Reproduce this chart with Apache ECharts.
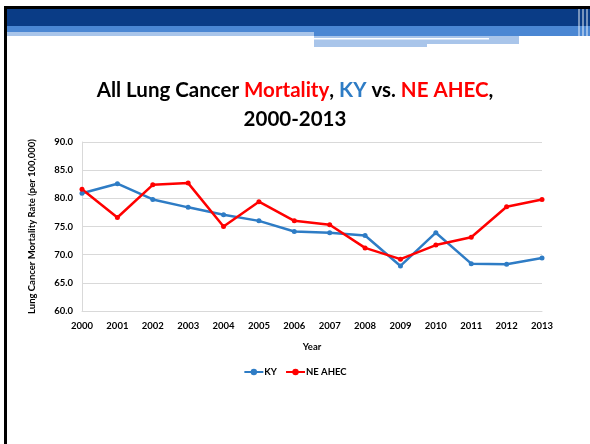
<!DOCTYPE html>
<html>
<head>
<meta charset="utf-8">
<script src="https://cdn.jsdelivr.net/npm/echarts@6/dist/echarts.min.js"></script>
<style>
  html, body { margin: 0; padding: 0; background: #fff; }
  #main { width: 590px; height: 444px; }
</style>
</head>
<body>
<div id="main"></div>
<script>
// data
var years = ['2000', '2001', '2002', '2003', '2004', '2005', '2006',
             '2007', '2008', '2009', '2010', '2011', '2012', '2013'];
var ky = [80.9, 82.6, 79.8, 78.4, 77.1, 76.0, 74.1, 73.9, 73.4, 68.0, 73.9, 68.4, 68.3, 69.4];
var neAhec = [81.6, 76.6, 82.4, 82.7, 75.0, 79.4, 76.0, 75.3, 71.2, 69.2, 71.7, 73.1, 78.5, 79.8];

var FONT = 'Lato';
var BLUE = '#2E7CC5';
var RED = '#FF0000';

var chart = echarts.init(document.getElementById('main'));

var option = {
  backgroundColor: '#fff',
  textStyle: { fontFamily: FONT },
  graphic: [
    // slide header bands
    { type: 'rect', shape: { x: 7, y: 9, width: 583, height: 17 }, style: { fill: '#0A3C86' }, silent: true },
    { type: 'rect', shape: { x: 7, y: 26, width: 583, height: 6 }, style: { fill: '#4B87D3' }, silent: true },
    { type: 'rect', shape: { x: 7, y: 32, width: 307, height: 4 }, style: { fill: '#A9C5EA' }, silent: true },
    { type: 'rect', shape: { x: 314, y: 32, width: 276, height: 4 }, style: { fill: '#4B87D3' }, silent: true },
    { type: 'rect', shape: { x: 314, y: 36, width: 205, height: 11 }, style: { fill: '#A9C5EA' }, silent: true },
    { type: 'rect', shape: { x: 314, y: 38, width: 175, height: 1.5 }, style: { fill: '#fff' }, silent: true },
    { type: 'rect', shape: { x: 427, y: 44, width: 92, height: 3 }, style: { fill: '#fff' }, silent: true },
    { type: 'rect', shape: { x: 578, y: 9, width: 2, height: 38 }, style: { fill: '#fff', opacity: 0.45 }, silent: true },
    { type: 'rect', shape: { x: 582, y: 9, width: 2, height: 38 }, style: { fill: '#fff', opacity: 0.45 }, silent: true },
    { type: 'rect', shape: { x: 586, y: 9, width: 2, height: 38 }, style: { fill: '#fff', opacity: 0.45 }, silent: true },
    // slide frame
    { type: 'rect', shape: { x: 4, y: 6, width: 3, height: 438 }, style: { fill: '#000' }, silent: true },
    { type: 'rect', shape: { x: 4, y: 6, width: 586, height: 3 }, style: { fill: '#000' }, silent: true }
  ],
  title: {
    left: 'center',
    top: 71,
    text: 'All Lung Cancer {r|Mortality}, {b|KY} vs. {r|NE AHEC},\n2000-2013',
    textStyle: {
      fontFamily: FONT,
      fontWeight: 'bold',
      fontSize: 20.5,
      lineHeight: 29,
      color: '#000',
      rich: {
        r: { color: RED, fontFamily: FONT, fontWeight: 'bold', fontSize: 20.5, lineHeight: 29 },
        b: { color: BLUE, fontFamily: FONT, fontWeight: 'bold', fontSize: 20.5, lineHeight: 29 }
      }
    }
  },
  legend: {
    top: 362,
    left: 'center',
    itemWidth: 19,
    itemHeight: 8,
    itemGap: 8,
    textStyle: { fontFamily: FONT, fontWeight: 'bold', fontSize: 9.5, color: '#000', padding: [0, 0, 0, -4] },
    data: ['KY', 'NE AHEC']
  },
  grid: { left: 82, right: 48, top: 142, bottom: 133 },
  xAxis: {
    type: 'category',
    data: years,
    boundaryGap: false,
    name: 'Year',
    nameLocation: 'middle',
    nameGap: 31,
    nameTextStyle: { fontFamily: FONT, fontWeight: 'bold', fontSize: 9.5, color: '#000' },
    axisLine: { lineStyle: { color: '#D9D9D9' } },
    axisTick: { show: false },
    axisLabel: { fontFamily: FONT, fontWeight: 'bold', fontSize: 9.5, color: '#000', margin: 10, interval: 0 }
  },
  yAxis: {
    type: 'value',
    min: 60,
    max: 90,
    interval: 5,
    name: 'Lung Cancer Mortality Rate (per 100,000)',
    nameLocation: 'middle',
    nameGap: 45,
    nameTextStyle: { fontFamily: FONT, fontWeight: 'bold', fontSize: 9.5, color: '#000' },
    axisLine: { show: true, lineStyle: { color: '#D9D9D9' } },
    axisTick: { show: false },
    splitLine: { lineStyle: { color: '#D9D9D9' } },
    axisLabel: {
      fontFamily: FONT, fontWeight: 'bold', fontSize: 9.5, color: '#000', margin: 9,
      formatter: function (v) { return v.toFixed(1); }
    }
  },
  series: [
    {
      name: 'KY',
      type: 'line',
      data: ky,
      color: BLUE,
      symbol: 'circle',
      symbolSize: 5,
      lineStyle: { width: 2.5 },
      itemStyle: { color: BLUE }
    },
    {
      name: 'NE AHEC',
      type: 'line',
      data: neAhec,
      color: RED,
      symbol: 'circle',
      symbolSize: 5,
      lineStyle: { width: 2.5 },
      itemStyle: { color: RED }
    }
  ]
};

chart.setOption(option);
</script>
</body>
</html>
